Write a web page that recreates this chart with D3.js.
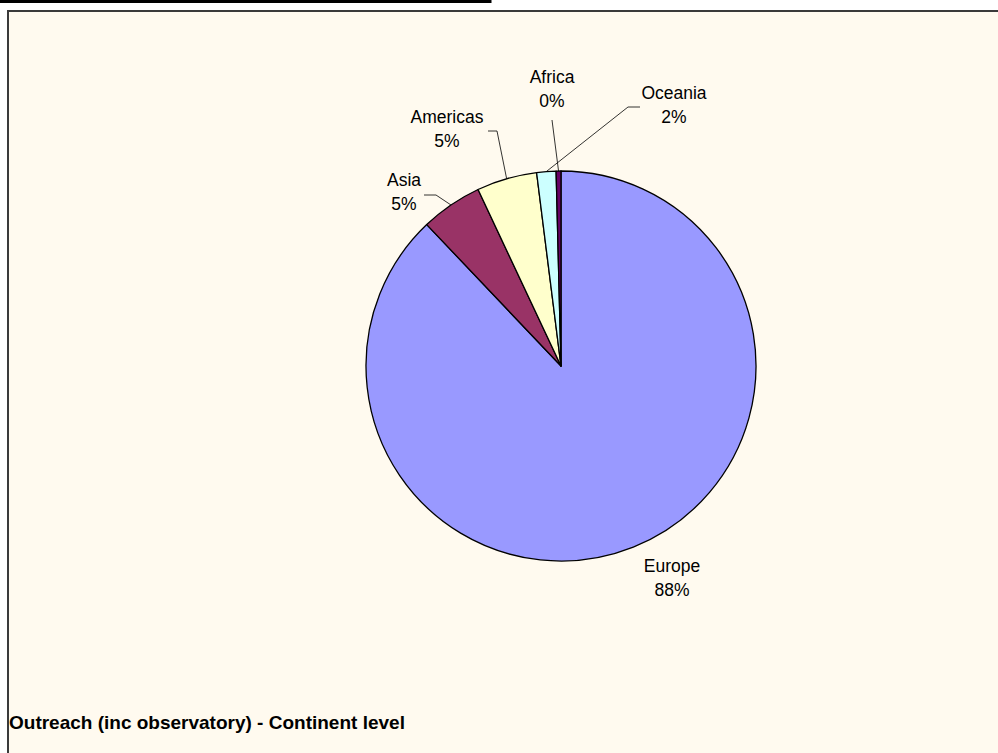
<!DOCTYPE html>
<html>
<head>
	<title>pie continent</title>
	<meta charset="utf-8">
	<style type="text/css">
		html, body { margin: 0; padding: 0; background: #ffffff; overflow: hidden; }
		svg { display: block; font-family: "Liberation Sans", Arial, sans-serif; }
	</style>
</head>
<body>

<script type="text/javascript" src="https://cdn.jsdelivr.net/npm/d3@7/dist/d3.min.js"></script>
<script type="text/javascript">
	// data (clockwise from 12 o'clock)
	var categories = ["Europe", "Asia", "Americas", "Oceania", "Africa"];
	var values = [440, 25.5, 25, 8, 2];
	var colors = ["#9999FF", "#993366", "#FFFFCC", "#CCFFFF", "#660066"];
	var title = "Outreach (inc observatory) - Continent level";

	// label placement, offsets from pie centre (first line baseline); elbow = leader line start
	var labelPos = [
		{dx: 111, dy: 206, elbow: null},
		{dx: -157, dy: -180, elbow: [[-137, -171], [-125, -171]]},
		{dx: -114, dy: -243, elbow: [[-73, -235], [-64, -235]]},
		{dx: 113, dy: -267, elbow: [[79, -259], [67, -259]]},
		{dx: -9, dy: -283, elbow: [[-9, -246]]}
	];

	var w = 998, h = 753;
	var cx = 561, cy = 366, r = 195;

	var svg = d3.select("body").append("svg").attr("width", w).attr("height", h);

	// frame bits
	svg.append("path")
		.attr("d", "M0,1.5 H490 V-2")
		.attr("fill", "none").attr("stroke", "#000").attr("stroke-width", 3);
	svg.append("rect")
		.attr("x", 8).attr("y", 11).attr("width", 1100).attr("height", 900)
		.attr("fill", "#FFFAEF").attr("stroke", "#3a3a3a").attr("stroke-width", 2);

	var total = d3.sum(values);
	var pie = d3.pie().sort(null).value(function(d){ return d; });
	var arc = d3.arc().innerRadius(0).outerRadius(r);
	var arcs = pie(values);

	var g = svg.append("g").attr("transform", "translate(" + cx + "," + cy + ")");

	g.selectAll("path.slice")
		.data(arcs)
		.enter()
		.append("path")
		.attr("class", "slice")
		.attr("fill", function(d, i){ return colors[i]; })
		.attr("stroke", "#000")
		.attr("stroke-width", 1.3)
		.attr("stroke-linejoin", "round")
		.attr("d", arc);

	// leader lines
	arcs.forEach(function(d, i){
		var lp = labelPos[i];
		if (!lp.elbow) return;
		var a = (d.startAngle + d.endAngle) / 2;
		var end = [Math.sin(a) * r, -Math.cos(a) * r];
		var pts = lp.elbow.concat([end]);
		g.append("path")
			.attr("d", d3.line()(pts))
			.attr("fill", "none")
			.attr("stroke", "#000")
			.attr("stroke-width", 0.8);
	});

	// labels
	var labels = g.selectAll("text.lbl")
		.data(arcs)
		.enter()
		.append("text")
		.attr("class", "lbl")
		.attr("text-anchor", "middle")
		.attr("font-size", "17.5px")
		.attr("fill", "#000");
	labels.append("tspan")
		.attr("x", function(d, i){ return labelPos[i].dx; })
		.attr("y", function(d, i){ return labelPos[i].dy; })
		.text(function(d, i){ return categories[i]; });
	labels.append("tspan")
		.attr("x", function(d, i){ return labelPos[i].dx; })
		.attr("y", function(d, i){ return labelPos[i].dy + 24; })
		.text(function(d){ return Math.round(d.value / total * 100) + "%"; });

	// title
	svg.append("text")
		.attr("x", 9).attr("y", 729)
		.attr("font-size", "19px")
		.attr("font-weight", "bold")
		.text(title);
</script>
</body>
</html>
